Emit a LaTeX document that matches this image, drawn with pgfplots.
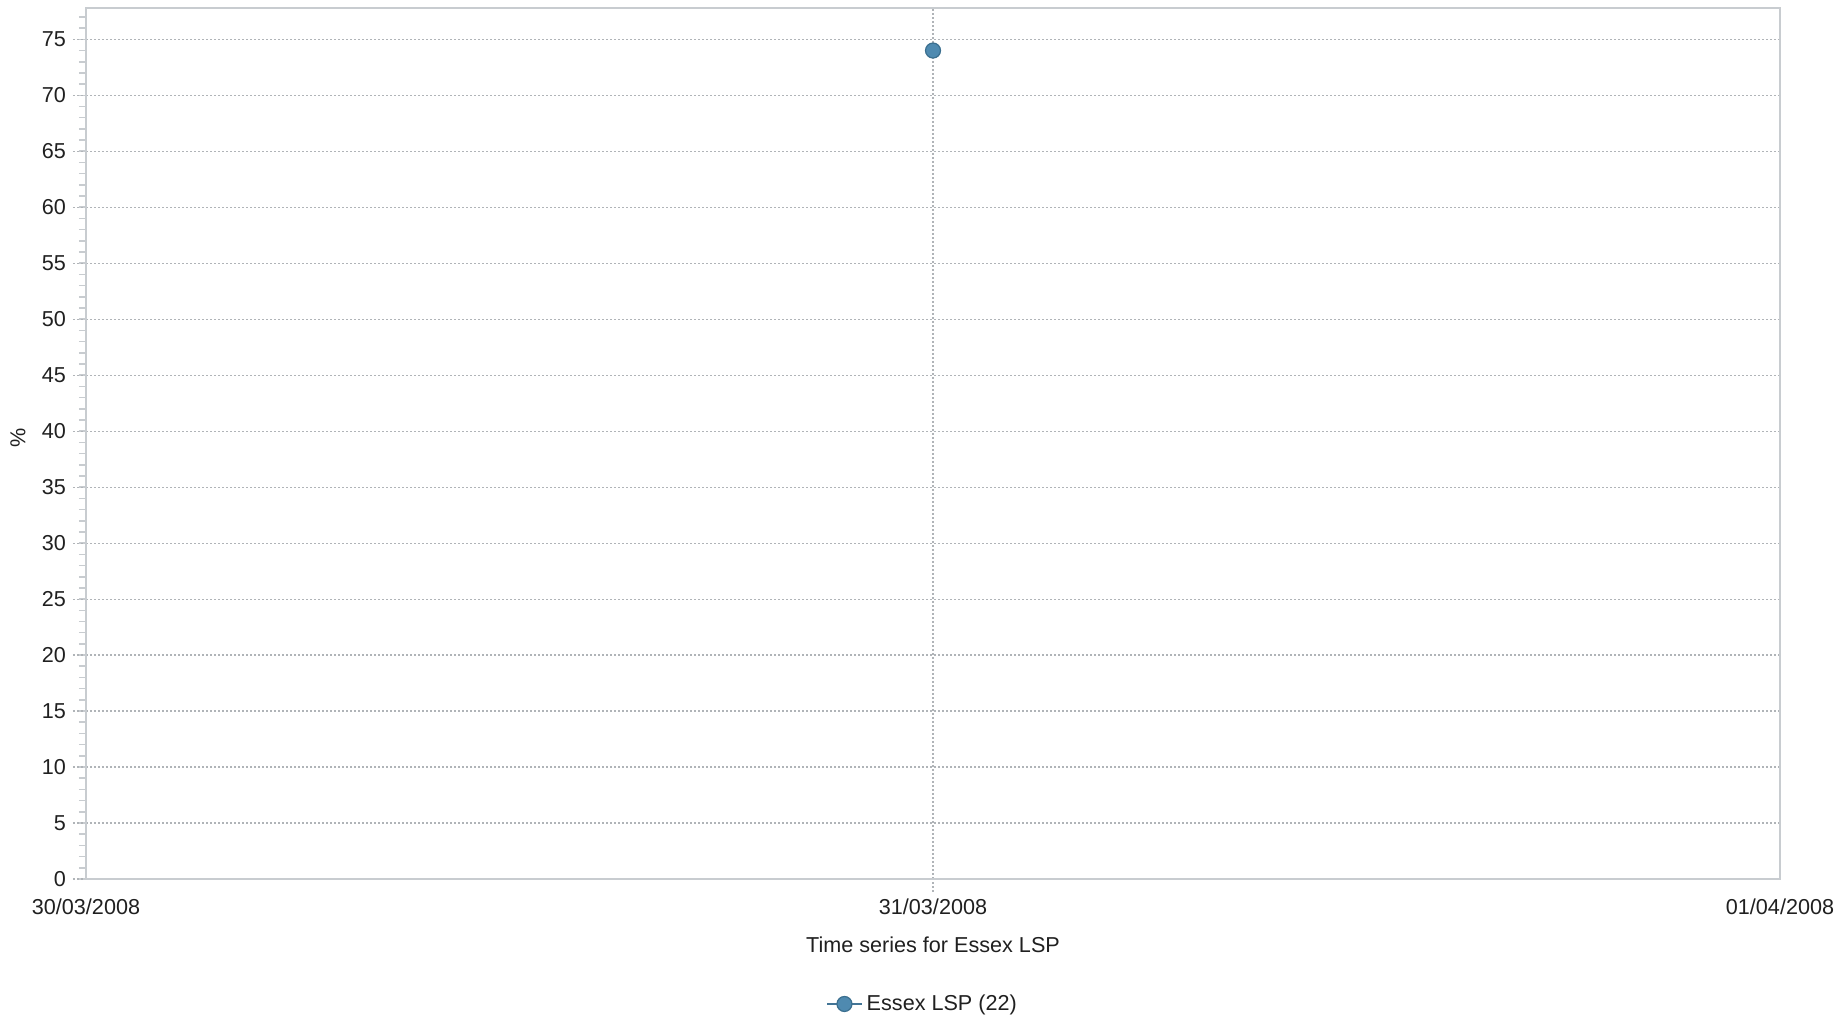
\documentclass[border=0pt]{standalone}
\usepackage{fontspec}
\setmainfont{Liberation Sans}
\usepackage{pgfplots}
\pgfplotsset{compat=1.18}
\definecolor{axisgray}{HTML}{C8CCD0}
\definecolor{gridgray}{HTML}{B0B4B8}
\definecolor{ptblue}{HTML}{4F8AB0}
\definecolor{ptedge}{HTML}{3B6F8F}
\definecolor{txt}{HTML}{202020}
\begin{document}
\begin{tikzpicture}
\begin{axis}[name=ax,
  width=847pt, height=435.5pt, scale only axis,
  xmin=0, xmax=2, ymin=0, ymax=77.8,
  xtick={1}, xticklabels={31/03/2008},
  extra x ticks={0,2}, extra x tick labels={30/03/2008,01/04/2008},
  extra x tick style={grid=none, major tick style={draw=none}},
  ytick={0,5,...,75}, minor ytick={0,1,...,77},
  tick pos=left, tick align=outside,
  major tick length=6.5pt, minor tick length=3.5pt,
  axis line style={axisgray, line width=1.2pt},
  grid=major,
  major grid style={gridgray, dash pattern=on 1pt off 1pt, line width=0.6pt},
  minor grid style={draw=none},
  major tick style={gridgray, dash pattern=on 1pt off 1pt, line width=0.6pt},
  minor tick style={axisgray, line width=0.8pt},
  /pgf/number format/assume math mode=true,
  tick label style={font=\fontsize{10.8}{13}\selectfont, text=txt},
  label style={font=\fontsize{10.8}{13}\selectfont, text=txt},
  xlabel={Time series for Essex LSP},
  xlabel style={at={(axis description cs:0.5,0)}, anchor=center, yshift=-32.75pt},
  ylabel={\%},
  ylabel style={at={(axis description cs:-0.0401,0.506)}, anchor=center},
  legend style={at={(axis description cs:0.5,0)}, anchor=center, yshift=-62.5pt, xshift=-4.75pt,
    draw=none, fill=none, font=\fontsize{10.8}{13}\selectfont, text=txt},
]
\addplot[color=ptblue!85!black, line width=1.2pt, mark=*, mark size=3.75pt,
  mark options={fill=ptblue, draw=ptedge, line width=0.6pt}]
  coordinates {(1,74)};
\addlegendentry{Essex LSP (22)}
\end{axis}
\pgfresetboundingbox
\path ([shift={(-43pt,-70.5pt)}]ax.south west) rectangle ([shift={(33pt,4pt)}]ax.north east);
\end{tikzpicture}
\end{document}
